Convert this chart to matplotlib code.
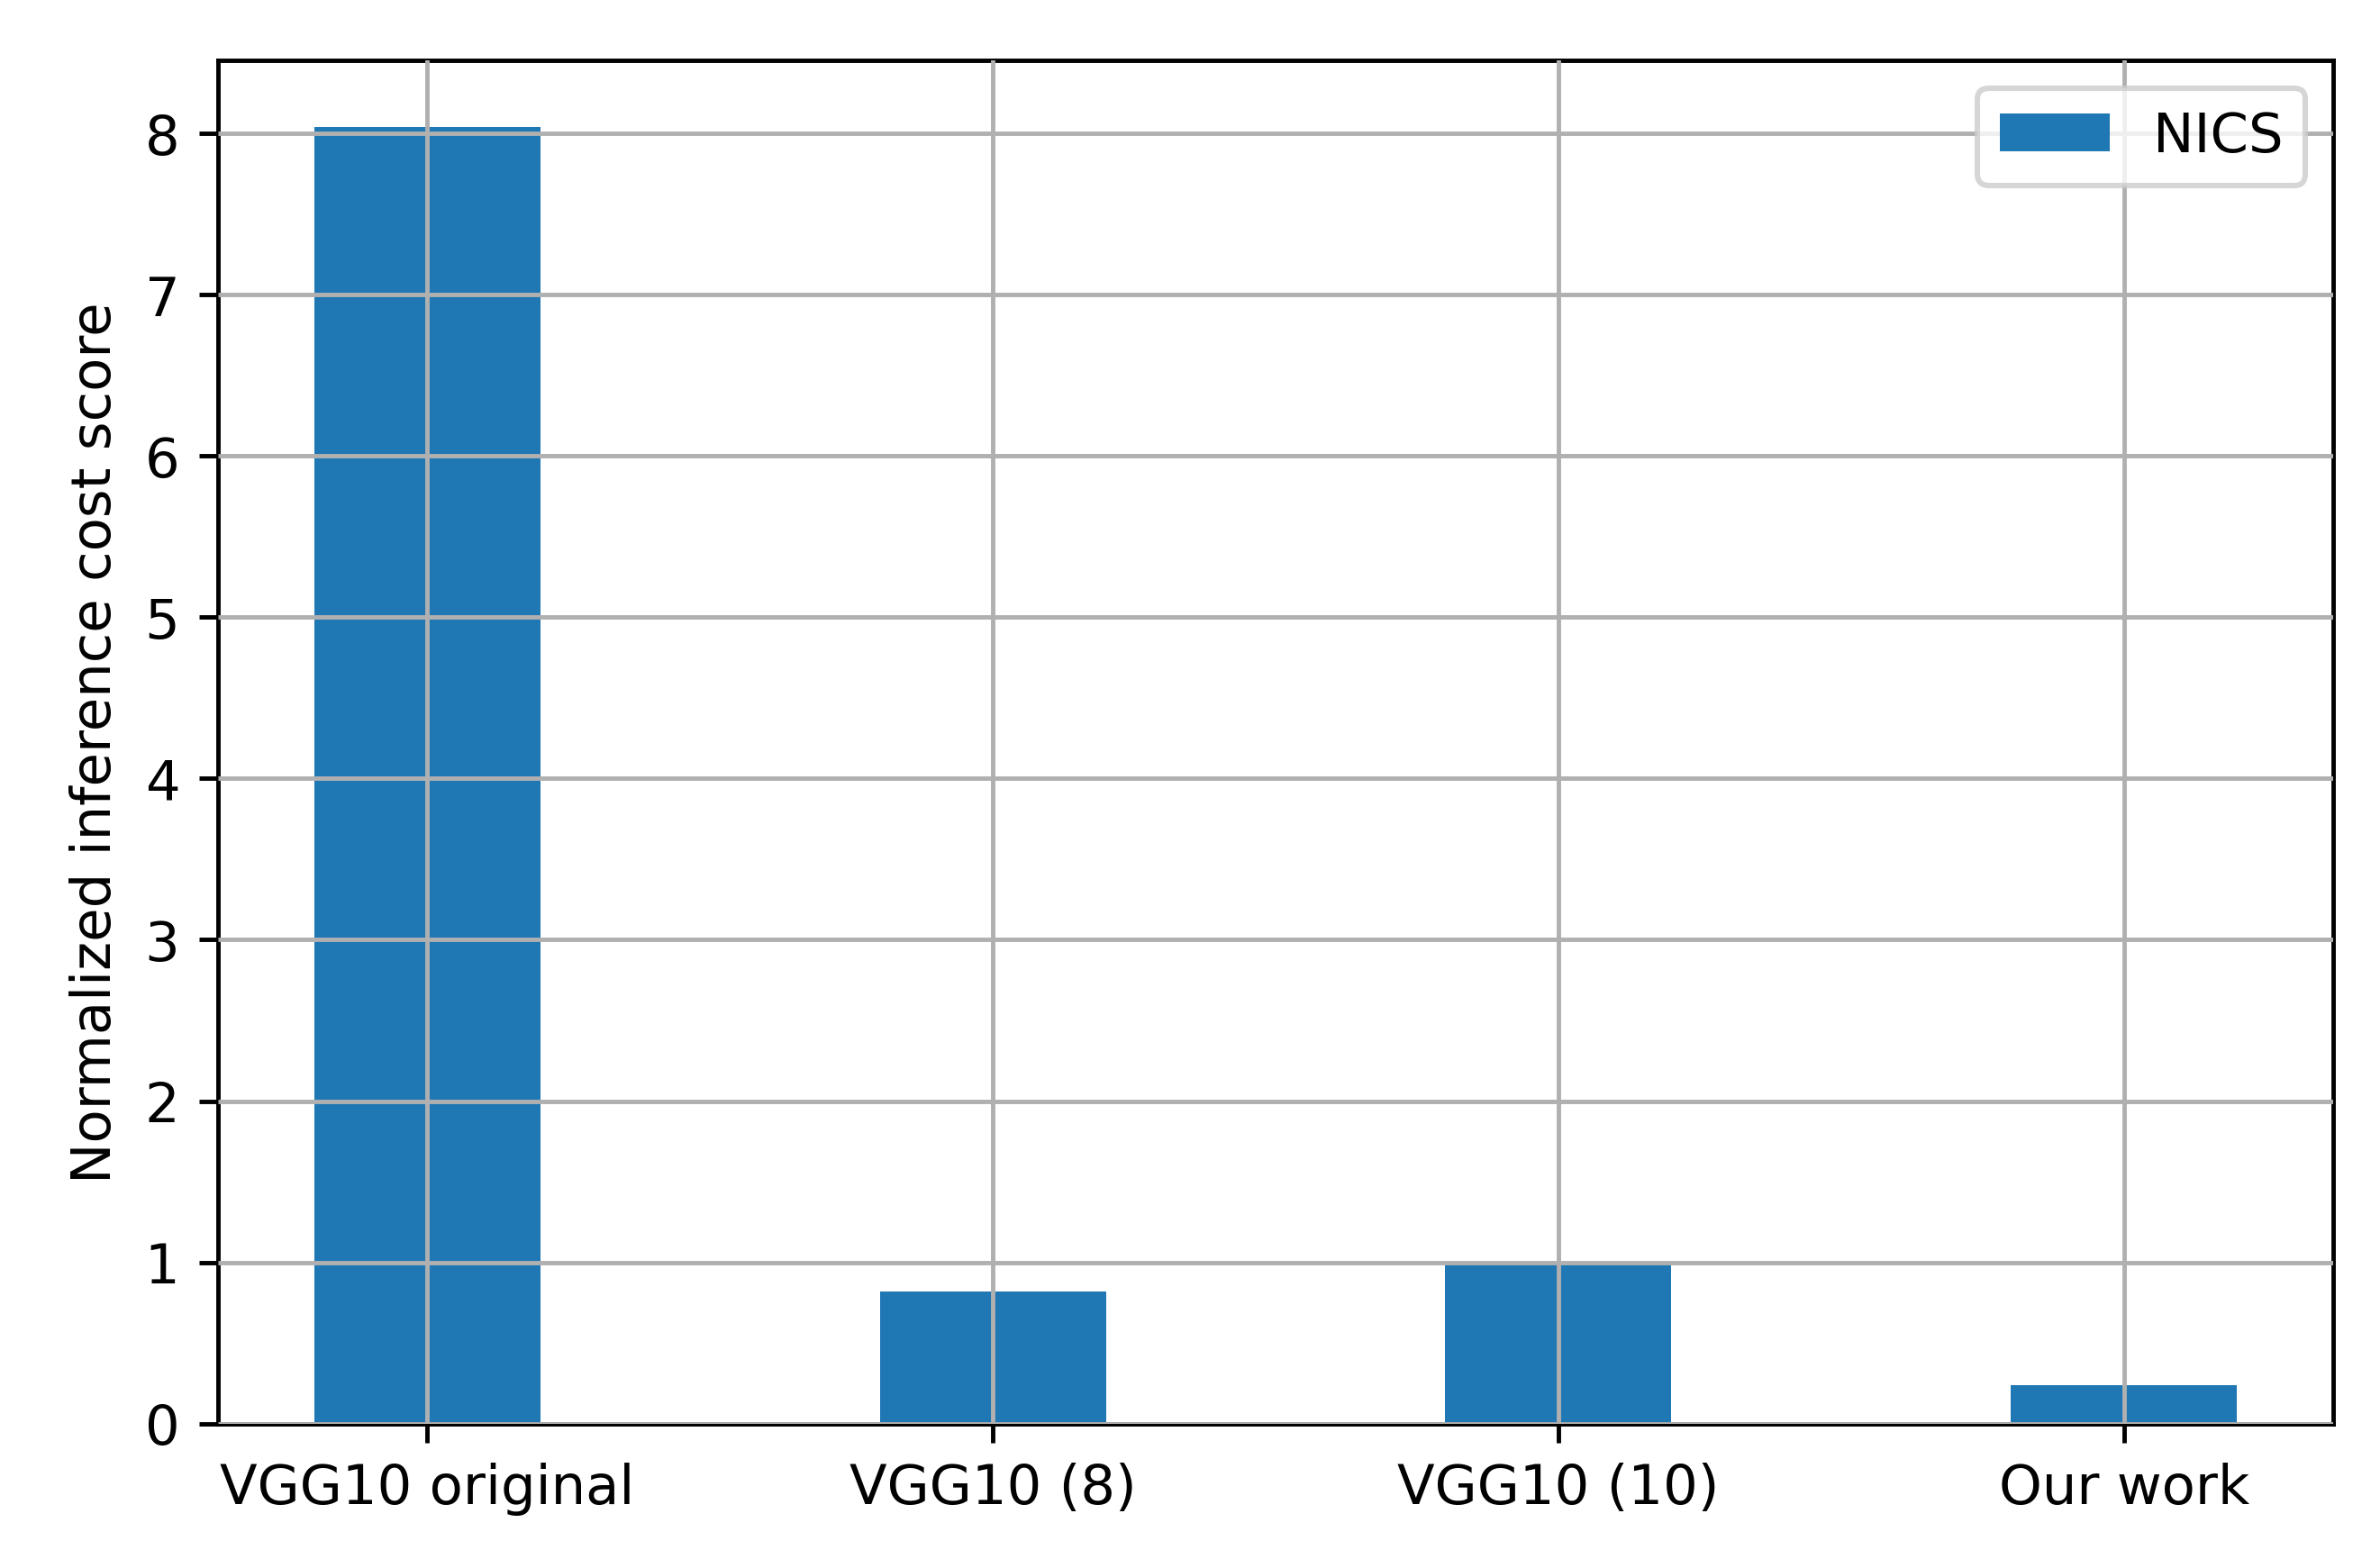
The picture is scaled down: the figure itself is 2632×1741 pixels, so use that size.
import matplotlib
matplotlib.use("Agg")
import matplotlib.pyplot as plt

categories = ["VGG10 original", "VGG10 (8)", "VGG10 (10)", "Our work"]
nics = [8.04, 0.82, 0.99, 0.24]

fig = plt.figure(figsize=(6.0, 3.97), dpi=438.67)
ax = fig.add_axes([0.092, 0.092, 0.892, 0.869])
ax.bar(range(len(categories)), nics, width=0.4, color="#1f77b4", label="NICS")
ax.set_xticks(range(len(categories)))
ax.set_xticklabels(categories)
ax.set_ylabel("Normalized inference cost score")
ax.set_ylim(0, 8.45)
ax.set_axisbelow(False)
ax.grid(True, color="#b0b0b0")
ax.legend(loc="upper right")
fig.savefig("out.png", dpi=438.67)
